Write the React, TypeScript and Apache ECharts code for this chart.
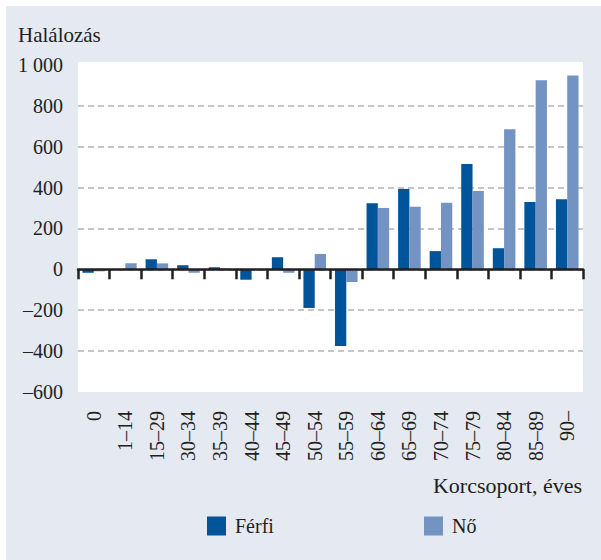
import React, { useEffect, useRef } from "react";
import * as echarts from "echarts";

const categories = ["0", "1–14", "15–29", "30–34", "35–39", "40–44", "45–49", "50–54", "55–59", "60–64", "65–69", "70–74", "75–79", "80–84", "85–89", "90–"];
const ferfi = [-17, 0, 49, 20, 10, -51, 59, -189, -375, 323, 393, 89, 515, 103, 329, 342];
const no = [-10, 29, 29, -17, 3, 0, -17, 75, -62, 300, 306, 326, 383, 685, 925, 948];
const yMin = -600;
const yMax = 1000;
const yStep = 200;

const FONT = "Liberation Serif, serif";
const TXT = "#231f20";
const C_F = "#00549a";
const C_N = "#7393c2";
const BG = "#e5e9f2";

function fmtY(v: number): string {
  const a = Math.abs(v);
  let s = String(a);
  if (a >= 1000) s = s.slice(0, s.length - 3) + " " + s.slice(s.length - 3);
  return (v < 0 ? "–" : "") + s;
}

export default function App() {
  const ref = useRef<HTMLDivElement>(null);
  useEffect(() => {
    if (!ref.current) return;
    const chart = echarts.init(ref.current, undefined, { renderer: "svg" });
    chart.setOption({
      animation: false,
      backgroundColor: BG,
      textStyle: { fontFamily: FONT },
      grid: {
        left: 72,
        top: 58.8,
        width: 505,
        height: 327.2,
        show: true,
        backgroundColor: "#ffffff",
        borderWidth: 0,
        containLabel: false,
      },
      legend: [
        {
          data: ["Férfi"],
          left: 201,
          top: 510,
          padding: 0,
          itemWidth: 19,
          itemHeight: 19,
          icon: "rect",
          textStyle: { fontFamily: FONT, fontSize: 20, color: TXT, padding: [0, 0, 0, 4] },
        },
        {
          data: ["Nő"],
          left: 418,
          top: 510,
          padding: 0,
          itemWidth: 19,
          itemHeight: 19,
          icon: "rect",
          textStyle: { fontFamily: FONT, fontSize: 20, color: TXT, padding: [0, 0, 0, 4] },
        },
      ],
      xAxis: [
        {
          type: "category",
          data: categories,
          z: 5,
          axisLine: { show: true, onZero: true, lineStyle: { color: TXT, width: 2.5 } },
          axisTick: { show: true, interval: 0, length: 10, lineStyle: { color: TXT, width: 2.5 } },
          axisLabel: { show: false },
          splitLine: { show: false },
        },
        {
          type: "category",
          data: categories,
          position: "bottom",
          axisLine: { show: false, onZero: false },
          axisTick: { show: false },
          axisLabel: {
            show: true,
            interval: 0,
            rotate: 90,
            margin: 19,
            fontFamily: FONT,
            fontSize: 20,
            color: TXT,
          },
          splitLine: { show: false },
        },
      ],
      yAxis: {
        type: "value",
        min: yMin,
        max: yMax,
        interval: yStep,
        axisLine: { show: false },
        axisTick: { show: false },
        axisLabel: {
          formatter: fmtY,
          margin: 15,
          fontFamily: FONT,
          fontSize: 20,
          color: TXT,
        },
        splitLine: {
          show: true,
          showMinLine: false,
          showMaxLine: false,
          lineStyle: { color: "#b3b3b3", width: 1.5, type: [6, 4] },
        },
      },
      graphic: [
        {
          type: "rect",
          shape: { x: 72, y: 56, width: 505, height: 3 },
          style: { fill: "#ffffff" },
          silent: true,
        },
        {
          type: "text",
          x: 12,
          y: 29,
          style: {
            text: "Halálozás",
            fontFamily: FONT,
            fontSize: 21,
            fill: TXT,
            align: "left",
            verticalAlign: "middle",
          },
        },
        {
          type: "text",
          x: 576,
          y: 479,
          style: {
            text: "Korcsoport, éves",
            fontFamily: FONT,
            fontSize: 22,
            fill: TXT,
            align: "right",
            verticalAlign: "middle",
          },
        },
      ],
      series: [
        {
          name: "Férfi",
          type: "bar",
          xAxisIndex: 0,
          data: ferfi,
          barWidth: 11.3,
          barGap: "0%",
          itemStyle: { color: C_F },
        },
        {
          name: "Nő",
          type: "bar",
          xAxisIndex: 0,
          data: no,
          barWidth: 11.3,
          barGap: "0%",
          itemStyle: { color: C_N },
        },
      ],
    });
    return () => chart.dispose();
  }, []);
  return (
    <div
      ref={ref}
      style={{ position: "absolute", left: 6, top: 6, width: 595, height: 554 }}
    />
  );
}
